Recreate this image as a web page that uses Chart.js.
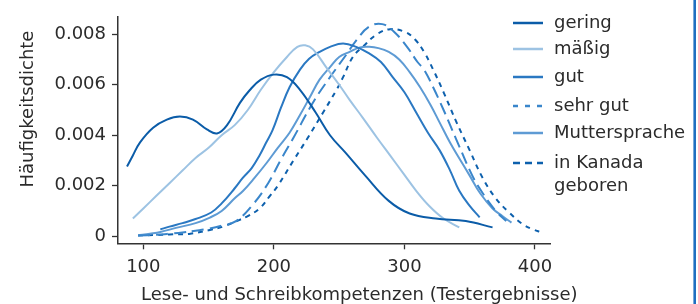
<!DOCTYPE html>
<html><head><meta charset="utf-8">
<script src="https://cdn.jsdelivr.net/npm/chart.js@4.4.1/dist/chart.umd.min.js"></script>
<style>html,body{margin:0;padding:0;background:#fff;}#wrap{width:698px;height:304px;position:relative;}</style>
</head><body><div id="wrap"><canvas id="c" width="698" height="304"></canvas></div>
<script>
const seriesNames = ['gering', 'mäßig', 'gut', 'sehr gut', 'Muttersprache', 'in Kanada geboren'];

const geringX = [87.5, 92, 97.5, 107.5, 118, 128, 138, 148.7, 156.4, 164, 174, 181.6, 190, 200, 210, 220, 232, 243, 255, 270, 288, 304, 324, 347, 367.5];
const geringY = [0.00276, 0.0032, 0.00372, 0.0043, 0.00462, 0.00474, 0.00462, 0.00423, 0.00407, 0.00439, 0.00528, 0.00579, 0.0062, 0.0064, 0.0063, 0.0058, 0.0049, 0.004, 0.0033, 0.0024, 0.0014, 0.0009, 0.0007, 0.0006, 0.00035];

const maessigX = [92, 100, 110, 120, 130, 140, 150, 160, 170, 180, 190, 200, 210, 218, 224, 230, 240, 250, 258, 268, 279, 289, 299, 309, 319, 330, 342];
const maessigY = [0.0007, 0.0011, 0.0016, 0.0021, 0.0026, 0.0031, 0.0035, 0.004, 0.0044, 0.005, 0.0058, 0.0065, 0.0071, 0.0075, 0.00756, 0.0074, 0.0067, 0.006, 0.0054, 0.0047, 0.0039, 0.0032, 0.0025, 0.0018, 0.0012, 0.0007, 0.00035];

const gutX = [113, 120, 130, 140, 152, 160, 170, 176, 183, 189, 194, 199, 205.5, 212, 220, 227, 235, 243, 253, 263, 273, 282, 291, 300, 309, 318, 327, 335, 342, 350, 357.6];
const gutY = [0.00027, 0.00038, 0.00052, 0.00068, 0.00094, 0.0013, 0.0019, 0.0023, 0.0027, 0.0032, 0.0037, 0.0042, 0.0051, 0.0059, 0.0066, 0.00703, 0.0073, 0.0075, 0.00763, 0.0075, 0.00724, 0.0069, 0.0063, 0.0057, 0.0049, 0.0041, 0.0034, 0.0026, 0.0018, 0.0012, 0.00075];

const sehrGutX = [96, 110, 120, 130, 140, 150, 160, 171, 184, 195.6, 205, 215, 230, 243, 255.6, 263, 273, 283, 292, 302, 310, 315, 322, 330, 340, 352, 360, 370, 378];
const sehrGutY = [0.00003, 0.00006, 0.0001, 0.00015, 0.00022, 0.0003, 0.00042, 0.0006, 0.00126, 0.0021, 0.003, 0.0039, 0.0053, 0.0063, 0.0072, 0.00775, 0.0083, 0.0084, 0.0081, 0.0075, 0.0069, 0.0066, 0.0059, 0.005, 0.0038, 0.0024, 0.0017, 0.001, 0.0006];

const mutterX = [96, 105, 113, 125, 140, 151, 160, 170, 176.5, 185, 194.4, 203, 212, 220, 227.5, 235, 243, 250, 258, 266, 273, 280, 288, 296, 304, 312, 320, 327, 335, 343, 350, 358, 367.5, 375, 382];
const mutterY = [0.00003, 0.0001, 0.00017, 0.00033, 0.00052, 0.00074, 0.001, 0.0015, 0.0018, 0.0023, 0.0029, 0.0035, 0.0041, 0.0048, 0.0055, 0.0062, 0.0067, 0.0071, 0.0073, 0.00748, 0.0075, 0.00745, 0.0073, 0.007, 0.0065, 0.0059, 0.0052, 0.0045, 0.0037, 0.003, 0.0024, 0.0017, 0.0011, 0.0008, 0.00054];

const kanadaX = [96, 110, 120, 136, 151, 161, 171.5, 180, 189, 197, 203, 215, 226, 237.7, 248, 253, 260.5, 268, 279, 289, 300, 308, 315, 322, 330, 340, 350, 360, 370, 380, 390, 398, 405];
const kanadaY = [0.00003, 0.00005, 0.00007, 0.0001, 0.00025, 0.00038, 0.0006, 0.0008, 0.0011, 0.0016, 0.002, 0.003, 0.0039, 0.0049, 0.0058, 0.0063, 0.0071, 0.0075, 0.008, 0.0082, 0.0081, 0.0078, 0.0073, 0.0066, 0.0057, 0.0045, 0.0034, 0.0023, 0.0015, 0.00095, 0.0005, 0.00028, 0.00015];

const xTicks = [100, 200, 300, 400];
const xTickLabels = ['100', '200', '300', '400'];
const yTicks = [0, 0.002, 0.004, 0.006, 0.008];
const yTickLabels = ['0', '0.002', '0.004', '0.006', '0.008'];
const xTitle = 'Lese- und Schreibkompetenzen (Testergebnisse)';
const yTitle = 'Häufigkeitsdichte';

const seriesX = [geringX, maessigX, gutX, sehrGutX, mutterX, kanadaX];
const seriesY = [geringY, maessigY, gutY, sehrGutY, mutterY, kanadaY];
const colors = ['#0b5ca8', '#9dc3e3', '#2a78c2', '#3a86cb', '#5e9bd4', '#0d60ad'];
const dashes = [[], [], [], [12, 6], [], [5, 5]];
const legendDashes = [[], [], [], [5, 7], [], [7, 5]];
const legendRowY = [23, 49, 77, 106, 133, 163];

const FONT = 'DejaVu Sans';
const TXT = '#2b2b2b';

const datasets = seriesNames.map((name, i) => ({
  label: name,
  data: seriesX[i].map((x, j) => ({ x: x, y: seriesY[i][j] })),
  borderColor: colors[i],
  borderWidth: 2,
  borderDash: dashes[i],
  pointRadius: 0,
  fill: false,
  tension: 0.4
}));

const overlay = {
  id: 'overlay',
  afterDraw(chart) {
    const ctx = chart.ctx;
    ctx.save();
    chart.data.datasets.forEach((ds, i) => {
      const y = legendRowY[i];
      ctx.beginPath();
      ctx.setLineDash(legendDashes[i]);
      ctx.strokeStyle = ds.borderColor;
      ctx.lineWidth = 2.5;
      ctx.moveTo(513, y);
      ctx.lineTo(543, y);
      ctx.stroke();
      ctx.setLineDash([]);
      ctx.fillStyle = TXT;
      ctx.font = '18px "' + FONT + '"';
      ctx.textAlign = 'left';
      ctx.textBaseline = 'middle';
      const parts = ds.label === 'in Kanada geboren' ? ['in Kanada', 'geboren'] : [ds.label];
      parts.forEach((p, k) => ctx.fillText(p, 554, y + k * 23));
    });
    ctx.font = '18px "' + FONT + '"';
    ctx.fillStyle = TXT;
    ctx.textAlign = 'left';
    ctx.textBaseline = 'alphabetic';
    ctx.fillText(xTitle, 141, 300);
    ctx.translate(33, 109);
    ctx.rotate(-Math.PI / 2);
    ctx.textAlign = 'center';
    ctx.fillText(yTitle, 0, 0);
    ctx.restore();
    ctx.save();
    ctx.beginPath();
    ctx.strokeStyle = '#1f6fc1';
    ctx.lineWidth = 2.6;
    ctx.moveTo(694.7, 0);
    ctx.lineTo(694.7, 304);
    ctx.stroke();
    ctx.restore();
  }
};

new Chart(document.getElementById('c'), {
  type: 'line',
  data: { datasets: datasets },
  options: {
    responsive: false,
    devicePixelRatio: 1,
    animation: false,
    layout: { padding: { left: 0, right: 148, top: 12.7, bottom: 0 } },
    plugins: { legend: { display: false }, tooltip: { enabled: false } },
    scales: {
      x: {
        type: 'linear',
        min: 80.6,
        max: 411.5,
        afterFit(s) { s.height = 60.7; },
        afterBuildTicks(s) { s.ticks = xTicks.map(v => ({ value: v })); },
        ticks: {
          callback: (v, i) => xTickLabels[i],
          font: { family: FONT, size: 18 },
          color: TXT,
          padding: 7,
          maxRotation: 0,
          autoSkip: false
        },
        grid: { display: true, drawOnChartArea: false, drawTicks: true, tickLength: 6, tickColor: '#333', tickWidth: 1.3 },
        border: { display: true, color: '#333', width: 1.5 }
      },
      y: {
        type: 'linear',
        min: -0.00028,
        max: 0.00869,
        afterFit(s) { s.width = 118; },
        afterBuildTicks(s) { s.ticks = yTicks.map(v => ({ value: v })); },
        ticks: {
          callback: (v, i) => yTickLabels[i],
          font: { family: FONT, size: 18 },
          color: TXT,
          padding: 6,
          autoSkip: false
        },
        grid: { display: true, drawOnChartArea: false, drawTicks: true, tickLength: 6, tickColor: '#333', tickWidth: 1.3 },
        border: { display: true, color: '#333', width: 1.5 }
      }
    }
  },
  plugins: [overlay]
});
</script>
</body></html>
